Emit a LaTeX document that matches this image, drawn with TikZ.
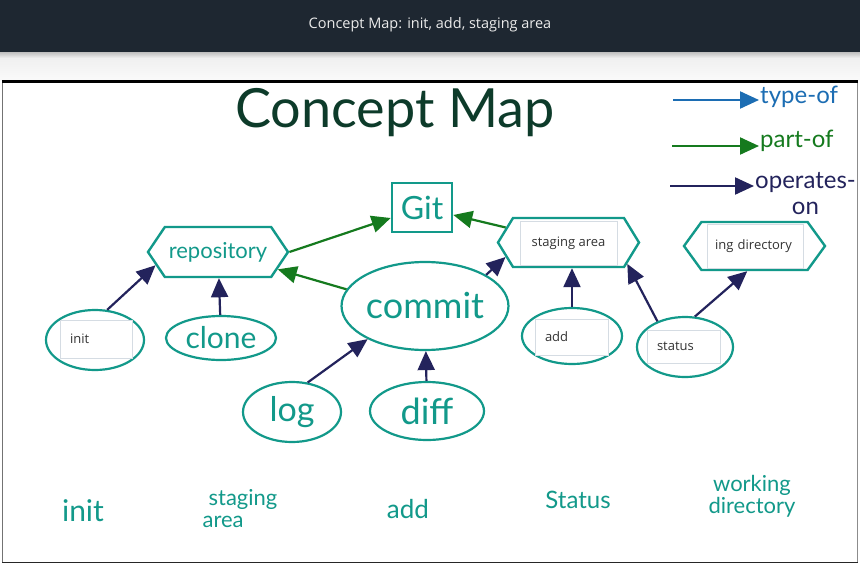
\documentclass[tikz,border=0pt]{standalone}
\usepackage{fontspec}
\setmainfont{Open Sans}
\newfontfamily\hand{Lato}
\usetikzlibrary{shapes.geometric,shapes.symbols,arrows.meta}
\definecolor{hdr}{HTML}{1E2731}
\definecolor{tealc}{HTML}{12998A}
\definecolor{greenc}{HTML}{157A1E}
\definecolor{navyc}{HTML}{23235C}
\definecolor{bluec}{HTML}{1C6DB3}
\definecolor{titlec}{HTML}{0D3B2A}
\definecolor{boxgray}{HTML}{D5DCE3}
\definecolor{txtc}{HTML}{333333}
\begin{document}
\begin{tikzpicture}[x=1pt,y=-1pt,
  conn/.style={line width=2.2, -{Triangle[length=19,width=17]}},
  partof/.style={conn, draw=greenc, fill=greenc},
  opson/.style={conn, draw=navyc, fill=navyc},
  typeof/.style={conn, draw=bluec, fill=bluec},
  oval/.style={ellipse, draw=tealc, line width=2.2, inner sep=0, fill=white},
  hexa/.style={signal, signal to=west and east, draw=tealc, line width=2.4, inner sep=0, fill=white},
  inbox/.style={draw=boxgray, line width=0.6, fill=white, inner ysep=0, font=\fontsize{13}{15}\selectfont, text=txtc},
  handtxt/.style={font=\hand\fontsize{#1}{#1}\selectfont, text=tealc},
  legtxt/.style={font=\hand\fontsize{24}{26}\selectfont, anchor=west, inner sep=1}
]
\useasboundingbox (0,0) rectangle (860,565);
% page chrome
\fill[hdr] (0,0) rectangle (860,52);
\shade[top color=black!25, bottom color=black!6] (0,52) rectangle (860,58);
\shade[top color=black!6, bottom color=black!2] (0,58) rectangle (860,80);
\node[text=white!92!black, font=\fontsize{14.5}{16}\selectfont] (hdrtitle) at (430,25) {Concept Map: init, add, staging area};
\fill[white] (2,81) rectangle (858,563);
\draw[black!55, line width=1] (2.5,81) -- (2.5,563);
\draw[black!45, line width=1] (857.5,81) -- (857.5,563);
\draw[black!85, line width=1.5] (2,562.5) -- (858,562.5);
\draw[black, line width=3] (2,81.5) -- (858,81.5);

% title
\node[font=\hand\fontsize{54}{54}\selectfont, text=titlec] (title) at (395,113) {Concept Map};

% legend
\node[legtxt, text=bluec] (ltype) at (759,97) {type-of};
\node[legtxt, text=greenc] (lpart) at (759,141) {part-of};
\node[legtxt, text=navyc, align=center] (lops) at (754,194) {operates-\\on};
\coordinate (ltypes) at (673,100);
\coordinate (lparts) at (672,146);
\coordinate (lopss) at (670,186);
\draw[typeof] (ltypes) -- (ltypes -| ltype.west);
\draw[partof] (lparts) -- (lparts -| lpart.west);
\draw[opson] (lopss) -- (lopss -| lops.west);

% nodes
\node[draw=tealc, line width=2.6, minimum width=60, minimum height=49, inner sep=0, handtxt=32] (git) at (422,207.5) {Git};
\node[hexa, minimum width=140, minimum height=50, signal pointer angle=112, handtxt=22] (repo) at (218,252) {repository};
\node[hexa, minimum width=141, minimum height=49, signal pointer angle=117] (stage) at (568.5,242.5) {};
\node[inbox, minimum width=97, minimum height=44, align=center] (stagebox) at (568.5,243) {staging area};
\node[hexa, minimum width=141, minimum height=48, signal pointer angle=108] (wd) at (754.5,246) {};
\node[inbox, minimum width=96, minimum height=44, text width=80, inner xsep=8, align=left] (wdbox) at (755,246) {ing directory};

\node[oval, minimum width=164, minimum height=88, handtxt=36] (commit) at (425,306) {commit};
\node[oval, minimum width=98, minimum height=60] (init) at (95,340) {};
\node[inbox, minimum width=72, minimum height=38, text width=52, inner xsep=10, align=left] (initbox) at (96,339) {init};
\node[oval, minimum width=110, minimum height=44, handtxt=30] (clone) at (221,338) {clone};
\node[oval, minimum width=98, minimum height=60, handtxt=34] (log) at (292,412) {log};
\node[oval, minimum width=114, minimum height=58, handtxt=36] (diff) at (427,411) {diff};
\node[oval, minimum width=100, minimum height=56] (add) at (572,336) {};
\node[inbox, minimum width=73, minimum height=36, text width=53, inner xsep=10, align=left] (addbox) at (571.5,337) {add};
\node[oval, minimum width=96, minimum height=60] (status) at (685,347) {};
\node[inbox, minimum width=73, minimum height=33, text width=53, inner xsep=10, align=left] (statusbox) at (683.5,346.5) {status};

% connectors
\draw[partof] (repo.east) -- (git);
\draw[partof] (commit.168) -- (repo);
\draw[partof] (stage) -- (git);
\draw[opson] (init.68) -- (repo.192);
\draw[opson] (clone) -- (repo);
\draw[opson] (log.62) -- (commit.210);
\draw[opson] (diff) -- (commit);
\draw[opson] (commit.27) -- (stage.193);
\draw[opson] (add) -- (stage.south -| add);
\draw[opson] (status.137) -- (stage.-20);
\draw[opson] (status.72) -- (wd.254);

% bottom words
\node[handtxt=30] (binit) at (83,511) {init};
\node[font=\hand\fontsize{22}{22}\selectfont, text=tealc, align=left] (bstage) at (240,509) {\hspace*{6pt}staging\\area};
\node[handtxt=26] (badd) at (408,509) {add};
\node[handtxt=24] (bstatus) at (578,500) {Status};
\node[font=\hand\fontsize{22}{22}\selectfont, text=tealc, align=center] (bwd) at (752,496) {working\\directory};
\end{tikzpicture}
\end{document}
